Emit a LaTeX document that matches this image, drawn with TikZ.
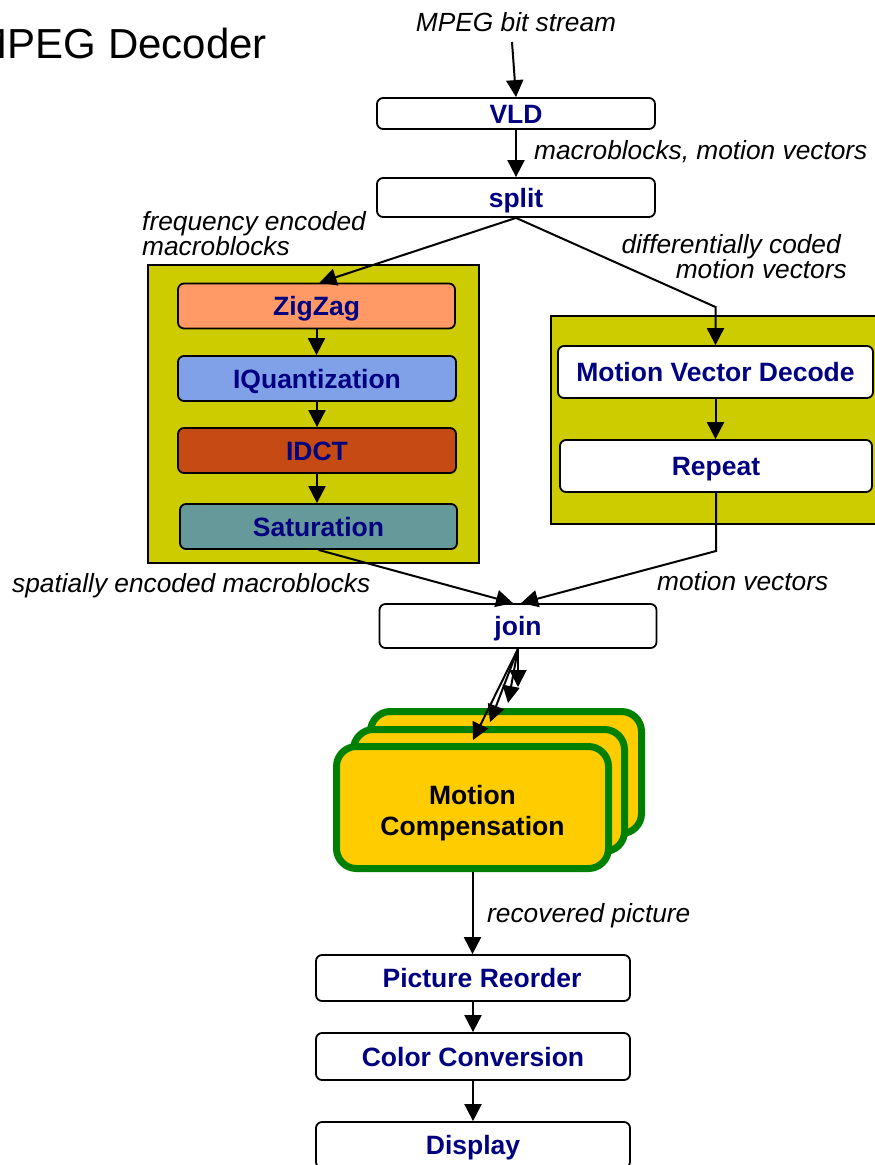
\documentclass[tikz,border=0pt]{standalone}
\usepackage{fontspec}
\setmainfont{Liberation Sans}
\usetikzlibrary{arrows.meta,calc}
\definecolor{navytext}{RGB}{0,0,128}
\definecolor{panelcol}{RGB}{204,204,0}
\definecolor{zzcol}{RGB}{255,153,102}
\definecolor{iqcol}{RGB}{128,160,232}
\definecolor{idctcol}{RGB}{198,74,20}
\definecolor{satcol}{RGB}{102,153,153}
\definecolor{mcfill}{RGB}{255,204,0}
\definecolor{mcline}{RGB}{0,128,0}
\begin{document}
\begin{tikzpicture}[x=1pt,y=-1pt,
 blk/.style={draw=black,line width=1.8pt,rounded corners=6pt,minimum width=278pt,inner sep=0pt,
   text height=19pt,text depth=0pt,
   font=\fontsize{26.5}{30}\selectfont\bfseries,text=navytext,fill=white},
 lab/.style={inner sep=0pt,font=\fontsize{26.3}{24}\selectfont\itshape},
 arr/.style={line width=2pt,-{Triangle[length=17pt,width=17pt]}},
 panel/.style={draw=black,line width=1.8pt,fill=panelcol},
 mcbox/.style={draw=mcline,line width=7pt,fill=mcfill,rounded corners=20pt}]
\useasboundingbox (0,0) rectangle (875,1165);
\clip (0,0) rectangle (875,1165);

% title
\node[inner sep=0pt,anchor=base west,font=\fontsize{42}{48}\selectfont] (title) at (-27.5,58) {MPEG Decoder};

% panels
\draw[panel] (148,265) rectangle (479,563);
\draw[panel] (551,316) rectangle (890,524);

% boxes
\node[blk,minimum height=31pt] (VLD) at (516,113.5) {VLD};
\node[blk,minimum height=39pt] (split) at (516,197.5) {split};
\node[blk,minimum width=277pt,minimum height=45pt,fill=zzcol] (ZZ) at (316.5,306) {ZigZag};
\node[blk,minimum height=45pt,fill=iqcol] (IQ) at (317,378.5) {IQuantization};
\node[blk,minimum height=45pt,fill=idctcol] (IDCT) at (317,450.5) {IDCT};
\node[blk,minimum width=277pt,minimum height=45pt,fill=satcol] (SAT) at (318.5,526.5) {Saturation};
\node[blk,minimum width=315pt,minimum height=52pt] (MVD) at (715.5,372) {Motion Vector Decode};
\node[blk,minimum width=312pt,minimum height=52pt] (REP) at (716,466) {Repeat};
\node[blk,minimum width=277pt,minimum height=44pt] (join) at (518,626) {join};
\node[blk,minimum width=314pt,minimum height=46pt] (PR) at (473,978) {\kern18pt Picture Reorder};
\node[blk,minimum width=314pt,minimum height=47pt] (CC) at (473,1056.5) {Color Conversion};
\node[blk,minimum width=314pt,minimum height=46pt] (DISP) at (473,1145) {Display};

% motion compensation stack
\draw[mcbox] (370.5,711.5) rectangle (641.5,833.5);
\draw[mcbox] (353.5,729.5) rectangle (624.5,851.5);
\node[mcbox,minimum width=272pt,minimum height=122pt,inner sep=0pt,
      font=\fontsize{26.5}{31}\selectfont\bfseries,text=black] (MC) at (472.5,807.5)
      {\raisebox{-6pt}[\height][\depth]{\begin{tabular}{@{}c@{}}Motion\\Compensation\end{tabular}}};

% labels
\node[lab,anchor=base] (lin) at (516,31) {MPEG bit stream};
\node[lab,anchor=base west] (lmv) at (534,159) {macroblocks, motion vectors};
\node[lab,anchor=north west,align=left] (lfreq) at (142,211) {frequency encoded\\macroblocks};
\node[lab,anchor=north east,align=right] (ldiff) at (847,234) {differentially coded\kern6pt\\motion vectors};
\node[lab,anchor=base west] (lspat) at (12,592) {spatially encoded macroblocks};
\node[lab,anchor=base west] (lmv2) at (657,590) {motion vectors};
\node[lab,anchor=base west] (lrec) at (487,922) {recovered picture};

% coordinates
\coordinate (src) at (512,42);
\coordinate (b1) at (715.5,307);
\coordinate (b2) at (716,551);
\coordinate (t1) at (518,687);
\coordinate (t2) at (508,703);
\coordinate (t3) at (490,722);
\coordinate (t4) at (473,740);

% connectors
\draw[arr] (src) -- (VLD.north);
\draw[arr] (VLD.south) -- (split.north);
\draw[arr] (split.south) -- ($(ZZ.north)+(3,0)$);
\draw[arr] (split.south) -- (b1) -- (MVD.north);
\draw[arr] (ZZ.south) -- (ZZ.south |- IQ.north);
\draw[arr] (IQ.south) -- (IQ.south |- IDCT.north);
\draw[arr] (IDCT.south) -- (IDCT.south |- SAT.north);
\draw[arr] (MVD.south) -- (MVD.south |- REP.north);
\draw[arr] (SAT.south) -- ($(join.north)+(-5,0)$);
\draw[arr] (REP.south) -- (b2) -- ($(join.north)+(3,0)$);
\draw[arr] (join.south) -- (t1);
\draw[arr] (join.south) -- (t2);
\draw[arr] (join.south) -- (t3);
\draw[arr] (join.south) -- (t4);
\draw[arr] (MC.south) -- (MC.south |- PR.north);
\draw[arr] (PR.south) -- (CC.north);
\draw[arr] (CC.south) -- (DISP.north);
\end{tikzpicture}
\end{document}
